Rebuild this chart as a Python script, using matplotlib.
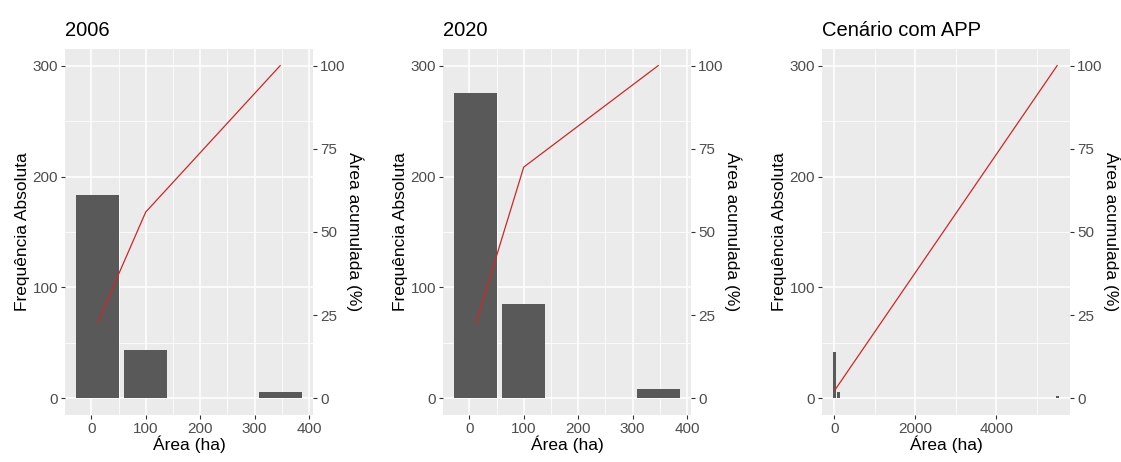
import numpy as np
import matplotlib
matplotlib.use('Agg')
import matplotlib.pyplot as plt
from matplotlib.ticker import MultipleLocator

plt.rcParams['font.family'] = ['Liberation Sans', 'DejaVu Sans']

# area classes (ha) and patch counts per class
titles = ['2006', '2020', 'Cenário com APP']
area_2006 = [12, 100, 347]
freq_2006 = [183, 44, 6]
area_2020 = [12, 100, 347]
freq_2020 = [275, 85, 8]
area_app = [12, 100, 5500]
freq_app = [42, 6, 2]

# cumulative area (%) along the area classes
cum_x_2006 = [12, 100, 347]
cum_pct_2006 = [23, 56, 100]
cum_x_2020 = [12, 100, 347]
cum_pct_2020 = [22.5, 69.5, 100]
cum_x_app = [12, 5500]
cum_pct_app = [2.5, 100]

panels = [
    (area_2006, freq_2006, cum_x_2006, cum_pct_2006, 100, 50),
    (area_2020, freq_2020, cum_x_2020, cum_pct_2020, 100, 50),
    (area_app, freq_app, cum_x_app, cum_pct_app, 2000, 1000),
]

BG = '#EBEBEB'
BAR = '#595959'
TXT = '#4D4D4D'
W, H = 1121, 462
lefts = [65, 443, 822]
pw = 248
top, bottom = 49, 415

fig = plt.figure(figsize=(W / 100, H / 100), dpi=100)

for i, (title, (xs, ys, cx, cp, major, minor)) in enumerate(zip(titles, panels)):
    ax = fig.add_axes([lefts[i] / W, 1 - bottom / H, pw / W, (bottom - top) / H])
    ax.set_facecolor(BG)
    for s in ax.spines.values():
        s.set_visible(False)

    width = 0.9 * np.min(np.diff(sorted(xs)))
    ax.bar(xs, ys, width=width, color=BAR, zorder=3)

    lo = min(xs) - width / 2
    hi = max(max(xs) + width / 2, max(cx))
    pad = 0.05 * (hi - lo)
    ax.set_xlim(lo - pad, hi + pad)
    ax.set_ylim(-15, 315)

    ax.xaxis.set_major_locator(MultipleLocator(major))
    ax.xaxis.set_minor_locator(MultipleLocator(minor))
    ax.yaxis.set_major_locator(MultipleLocator(100))
    ax.yaxis.set_minor_locator(MultipleLocator(50))
    ax.grid(which='major', color='white', lw=1.1, zorder=0)
    ax.grid(which='minor', color='white', lw=0.55, zorder=0)
    ax.set_axisbelow(True)
    ax.tick_params(which='major', length=3, width=0.8, color='#333333',
                   labelcolor=TXT, labelsize=11, pad=2)
    ax.tick_params(which='minor', length=0)

    ax.set_xlabel('Área (ha)', fontsize=12.5, labelpad=0)
    ax.set_ylabel('Frequência Absoluta', fontsize=12.5, labelpad=2)
    ax.set_title(title, loc='left', fontsize=14.5, pad=9)

    ax2 = ax.twinx()
    ax2.set_ylim(-5, 105)
    for s in ax2.spines.values():
        s.set_visible(False)
    ax2.yaxis.set_major_locator(MultipleLocator(25))
    ax2.tick_params(length=3, width=0.8, color='#333333',
                    labelcolor=TXT, labelsize=11, pad=2)
    ax2.plot(cx, cp, color='#D02626', lw=0.9, zorder=4)
    ax2.set_ylabel('Área acumulada (%)', fontsize=12.5, rotation=270,
                   labelpad=13)

fig.savefig('out.png', dpi=100)
